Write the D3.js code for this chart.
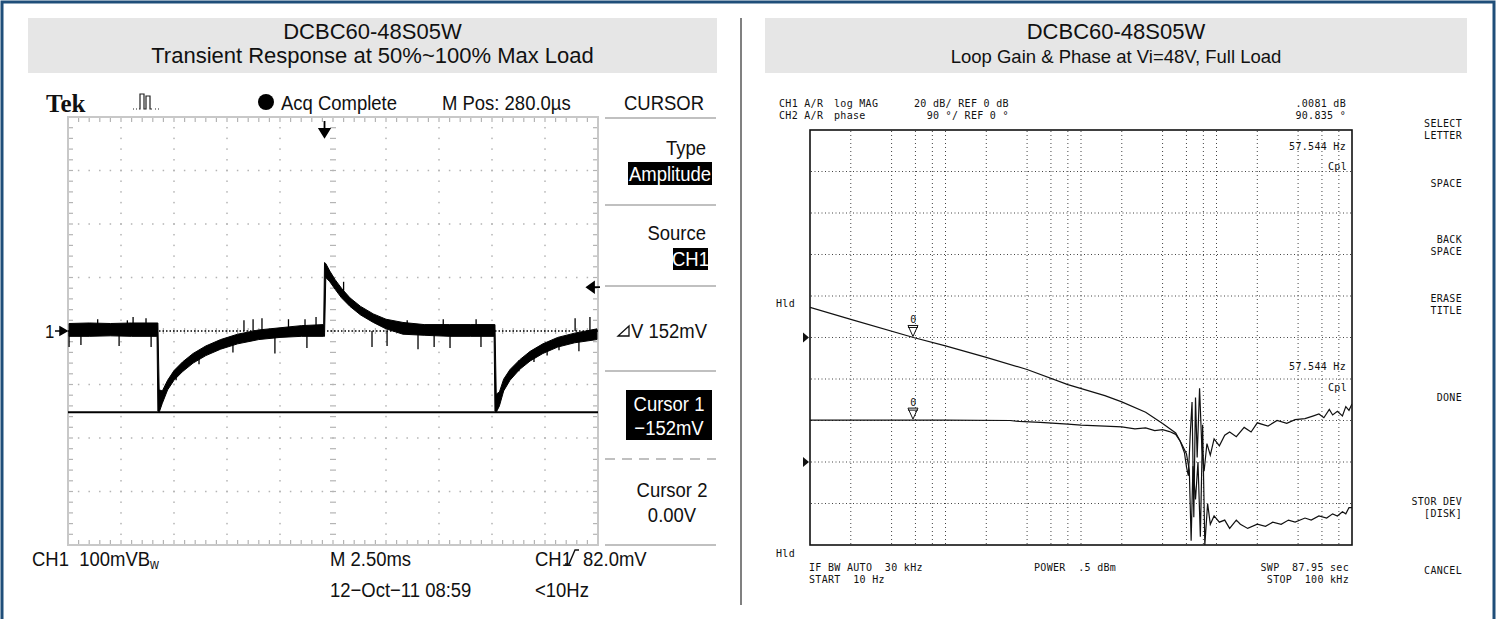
<!DOCTYPE html>
<html><head><meta charset="utf-8">
<script src="https://cdn.jsdelivr.net/npm/d3@7"></script>
<style>
body{margin:0;background:#fff;}
svg{display:block;}
.ttl{font-family:"Liberation Sans",Arial,sans-serif;fill:#111;}
.tek{font-family:"Liberation Sans",Arial,sans-serif;fill:#111;white-space:pre;}
.hp{font-family:"DejaVu Sans Mono","Liberation Mono",monospace;fill:#111;font-size:10px;letter-spacing:0.3px;white-space:pre;}
</style></head><body>
<svg id="c" width="1499" height="619"></svg>
<script>
// ---------------- DATA ----------------
const titleLeft = ["DCBC60-48S05W", "Transient Response at 50%~100% Max Load"];
const titleRight = ["DCBC60-48S05W", "Loop Gain & Phase at Vi=48V, Full Load"];

// Oscilloscope CH1 trace: time (ms), upper / lower edge of the noisy band (mV)
const traceT  = [0.05, 1.0, 2.0, 3.0, 4.20, 4.24, 4.30, 4.45, 4.7, 5.0, 5.4, 5.9, 6.5, 7.2, 8.0, 9.0, 10.0, 11.0, 12.06, 12.10, 12.16, 12.35, 12.6, 12.9, 13.3, 13.8, 14.4, 15.0, 15.8, 16.8, 18.0, 19.0, 20.10, 20.14, 20.20, 20.35, 20.55, 20.85, 21.3, 21.8, 22.4, 23.1, 23.9, 24.95];
const traceHi = [14, 15, 14, 15, 15, 15, -110, -112, -92, -74, -58, -42, -28, -16, -6, 2, 6, 10, 12, 128, 126, 112, 96, 80, 62, 46, 32, 22, 16, 12, 12, 12, 12, 12, -118, -114, -90, -72, -54, -38, -24, -12, -4, 4];
const traceLo = [-10, -10, -9, -10, -10, -150, -152, -135, -110, -92, -76, -60, -46, -34, -24, -16, -12, -10, -10, -10, 100, 92, 78, 62, 46, 30, 16, 4, -6, -8, -10, -10, -10, -150, -152, -140, -112, -92, -72, -56, -42, -30, -22, -16];
// noise spikes: time (ms), start and end level (mV)
const spikeT    = [0.05, 0.61, 2.41, 3.92, 6.18, 7.78, 9.76, 11.27, 14.34, 15.05, 16.51, 17.27, 18.02, 19.48, 21.27, 21.98, 23.16, 24.1, 3.07, 3.68, 8.3, 8.73, 9.15, 11.18, 11.7, 19.25, 23.92, 24.62, 1.4, 2.8, 5.1, 10.4, 13.0, 16.0, 17.7, 22.6];
const spikeFrom = [0, 0, 0, 0, -45, -24, 0, 0, 0, 0, 0, 0, 0, 0, -55, -42, -25, -15, 0, 0, 0, 0, 0, 0, 0, 0, 0, 0, 0, 0, -75, 0, 75, 0, 0, -30];
const spikeTo   = [-30, -26, -28, -30, -62, -40, -42, -32, -30, -28, -34, -30, -32, -30, -75, -58, -36, -38, 26, 24, 20, 22, 24, 22, 26, 22, 24, 26, 22, 20, -92, 22, 92, 20, 22, -46];
const cursor1mV = -152, cursor2mV = 0, trigLevelmV = 82, trigTimeMs = 12.1;
const timeDomainMs = [0, 25];      // 10 div x 2.5 ms
const voltDomainmV = [-400, 400];  // 8 div x 100 mV

const scopeTopText = ["Tek", "Acq Complete", "M Pos: 280.0\u00b5s", "CURSOR"];
const scopeMenuText = ["Type", "Amplitude", "Source", "CH1", "152mV", "Cursor 1", "\u2212152mV", "Cursor 2", "0.00V"];
const scopeBottomText = ["CH1  100mV", "M 2.50ms", "CH1", "82.0mV", "12\u2212Oct\u221211 08:59", "<10Hz"];

// Network analyzer: loop gain (dB) and phase (deg) vs frequency (Hz)
const gainFreq = [10, 20, 58, 100, 200, 400, 800, 1500, 2000, 3000, 4000, 5000, 5500, 6000, 6300, 6500, 6700, 7000, 7300, 7600, 7900, 8200, 8600, 9000, 9600, 10500, 11500, 12500, 14000, 15000, 17000, 20000, 23000, 26000, 30000, 34000, 38000, 45000, 50000, 57000, 65000, 72000, 78000, 85000, 90000, 95000, 100000];
const gainDb   = [14.5, 8.7, 0, -4, -9.6, -15.4, -22.7, -28, -31, -36, -41.5, -46, -51, -56, -64, -98, -62, -78, -60, -96, -42, -100, -80, -90, -86, -89, -88, -92, -88, -90, -92, -90, -91, -89, -90, -88, -89, -87, -88, -86, -87, -85, -86, -84, -85, -82, -82];
const phaseFreq = [10, 100, 300, 350, 500, 800, 1000, 1500, 2000, 2500, 3000, 3500, 4000, 4500, 5000, 5400, 5800, 6000, 6200, 6400, 6600, 6800, 7000, 7200, 7500, 7800, 8100, 8500, 9000, 9600, 10500, 11500, 12500, 14000, 16000, 18000, 20000, 24000, 28000, 33000, 38000, 45000, 52000, 57000, 62000, 68000, 72000, 78000, 85000, 90000, 95000, 100000];
const phaseDeg  = [90.8, 90.8, 90, 88, 86, 82, 80, 78, 76, 72, 74, 68, 70, 66, 60, 45, 20, -10, -30, 60, 130, -120, 140, 10, 160, 30, -20, 40, 15, 50, 35, 58, 65, 55, 75, 65, 85, 78, 90, 84, 92, 94, 100, 104, 96, 114, 102, 110, 100, 120, 112, 126];
const freqDomain = [10, 100000];
const gainDomain = [-100, 100];    // 20 dB/div, ref 0 dB
const phaseDomain = [-180, 720];   // 90 deg/div, ref 0 deg
const freqGrid = [20, 40, 60, 80, 100, 200, 400, 600, 800, 1000, 2000, 4000, 6000, 8000, 10000, 20000, 40000, 60000, 80000];
const markerFreq = 57.544, markerGain = 0.0081, markerPhase = 90.835;
const hpHeaderCols = [["CH1 A/R", "CH2 A/R"], ["log MAG", "phase"], ["20 dB/ REF 0 dB", "  90 \u00b0/ REF 0 \u00b0"], [".0081 dB", "90.835 \u00b0"]];
const hpFooterCols = [["IF BW AUTO  30 kHz", "START  10 Hz"], ["POWER  .5 dBm"], ["SWP  87.95 sec", "STOP  100 kHz"]];
const hpMenu = [["SELECT", "LETTER"], ["SPACE"], ["BACK", "SPACE"], ["ERASE", "TITLE"], ["DONE"], ["STOR DEV", "[DISK]"], ["CANCEL"]];

// ---------------- DRAW ----------------
const svg = d3.select("#c");

// outer frame
svg.append("path").attr("d", "M2,619 V2 H1494 V619").attr("fill", "none").attr("stroke", "#1f4e79").attr("stroke-width", 3);

// headers
function header(x, w, lines, size1, size2) {
  svg.append("rect").attr("x", x).attr("y", 18).attr("width", w).attr("height", 55).attr("fill", "#e6e6e6");
  svg.append("text").attr("class", "ttl").attr("x", x + w / 2).attr("y", 39).attr("text-anchor", "middle").attr("font-size", size1).text(lines[0]);
  svg.append("text").attr("class", "ttl").attr("x", x + w / 2).attr("y", 63).attr("text-anchor", "middle").attr("font-size", size2).text(lines[1]);
}
header(28, 689, titleLeft, 22, 22);
header(765, 702, titleRight, 22, 18.5);
svg.append("line").attr("x1", 741).attr("x2", 741).attr("y1", 18).attr("y2", 605).attr("stroke", "#808080").attr("stroke-width", 2);

// ======== Oscilloscope ========
const sx = d3.scaleLinear().domain(timeDomainMs).range([68, 598]);
const sy = d3.scaleLinear().domain(voltDomainmV).range([545, 117]);
const g = svg.append("g");
const xMajor = d3.range(timeDomainMs[0], timeDomainMs[1] + 0.001, 2.5);
const yMajor = d3.range(voltDomainmV[0], voltDomainmV[1] + 0.001, 100);
const xMinor = d3.range(timeDomainMs[0], timeDomainMs[1] + 0.001, 0.5);
const yMinor = d3.range(voltDomainmV[0], voltDomainmV[1] + 0.001, 20);
const gridCol = "#b4b4b4";
xMajor.slice(1, -1).forEach((t, i) => {
  if (i === 4) return;
  g.selectAll(null).data(yMinor).enter().append("rect")
    .attr("x", sx(t) - 0.75).attr("y", d => sy(d) - 0.75).attr("width", 1.5).attr("height", 1.5).attr("fill", gridCol);
});
yMajor.slice(1, -1).forEach((v, i) => {
  if (i === 3) return;
  g.selectAll(null).data(xMinor).enter().append("rect")
    .attr("x", d => sx(d) - 0.75).attr("y", sy(v) - 0.75).attr("width", 1.5).attr("height", 1.5).attr("fill", gridCol);
});
g.selectAll(null).data(yMinor).enter().append("line")
  .attr("x1", sx(12.5) - 3).attr("x2", sx(12.5) + 3).attr("y1", d => sy(d)).attr("y2", d => sy(d)).attr("stroke", gridCol).attr("stroke-width", 1.2);
g.selectAll(null).data(xMinor).enter().append("line")
  .attr("y1", sy(0) - 3).attr("y2", sy(0) + 3).attr("x1", d => sx(d)).attr("x2", d => sx(d)).attr("stroke", gridCol).attr("stroke-width", 1.2);
g.selectAll(null).data(xMinor).enter().append("line")
  .attr("x1", d => sx(d)).attr("x2", d => sx(d)).attr("y1", sy(400)).attr("y2", sy(400) + 5).attr("stroke", gridCol).attr("stroke-width", 1.2);
g.selectAll(null).data(xMinor).enter().append("line")
  .attr("x1", d => sx(d)).attr("x2", d => sx(d)).attr("y1", sy(-400)).attr("y2", sy(-400) - 5).attr("stroke", gridCol).attr("stroke-width", 1.2);
g.selectAll(null).data(yMinor).enter().append("line")
  .attr("y1", d => sy(d)).attr("y2", d => sy(d)).attr("x1", sx(0)).attr("x2", sx(0) + 5).attr("stroke", gridCol).attr("stroke-width", 1.2);
g.selectAll(null).data(yMinor).enter().append("line")
  .attr("y1", d => sy(d)).attr("y2", d => sy(d)).attr("x1", sx(25)).attr("x2", sx(25) - 5).attr("stroke", gridCol).attr("stroke-width", 1.2);
g.append("rect").attr("x", sx(0)).attr("y", sy(400)).attr("width", sx(25) - sx(0)).attr("height", sy(-400) - sy(400))
  .attr("fill", "none").attr("stroke", "#c8c8c8").attr("stroke-width", 2);

// cursors
g.append("line").attr("x1", sx(0)).attr("x2", sx(25)).attr("y1", sy(cursor2mV)).attr("y2", sy(cursor2mV))
  .attr("stroke", "#000").attr("stroke-width", 1.5).attr("stroke-dasharray", "1.5,2");
g.append("line").attr("x1", sx(0)).attr("x2", sx(25)).attr("y1", sy(cursor1mV)).attr("y2", sy(cursor1mV))
  .attr("stroke", "#000").attr("stroke-width", 2);

// trace band
const band = traceT.map((t, i) => ({t, hi: traceHi[i], lo: traceLo[i]}));
g.append("path").datum(band)
  .attr("d", d3.area().x(d => sx(d.t)).y0(d => sy(d.lo)).y1(d => sy(d.hi)))
  .attr("fill", "#000").attr("stroke", "#000").attr("stroke-width", 1);
g.selectAll(null).data(spikeT.map((t, i) => ({t, a: spikeFrom[i], b: spikeTo[i]}))).enter().append("line")
  .attr("x1", d => sx(d.t)).attr("x2", d => sx(d.t)).attr("y1", d => sy(d.a)).attr("y2", d => sy(d.b))
  .attr("stroke", "#000").attr("stroke-width", 1.3);

// Tek-style condensed text helper
function tk(x, y, s, anchor, fill, size) {
  const gg = svg.append("g").attr("transform", `translate(${x},${y}) scale(0.88,1)`);
  return gg.append("text").attr("class", "tek").attr("x", 0).attr("y", 0).attr("font-size", size || 21)
    .attr("text-anchor", anchor || "start").style("fill", fill || "#111").text(s);
}

// channel marker "1 ->"
const ry = sy(0);
tk(45, ry + 7, "1", "start", "#111", 19);
svg.append("path").attr("d", `M55,${ry} H62 M60,${ry - 4} L67,${ry} L60,${ry + 4} Z`).attr("stroke", "#000").attr("stroke-width", 1.5).attr("fill", "#000");
const ty = sy(trigLevelmV);
svg.append("path").attr("d", `M600,${ty} H592 M594,${ty - 5} L587,${ty} L594,${ty + 5} Z`).attr("stroke", "#000").attr("stroke-width", 1.8).attr("fill", "#000");
const tx = sx(trigTimeMs);
svg.append("path").attr("d", `M${tx},121 V130 M${tx - 5},129 L${tx},137 L${tx + 5},129 Z`).attr("stroke", "#000").attr("stroke-width", 1.8).attr("fill", "#000");

// top line
svg.append("text").attr("x", 46).attr("y", 112).attr("font-family", "'Liberation Serif','DejaVu Serif',serif").attr("font-weight", "bold").attr("font-size", 25).attr("fill", "#111").text(scopeTopText[0]);
svg.append("path").attr("d", "M133,109 h1 M136,109 h1 M139,109 h1 V94 h4 V109 h2 V96 h4 V109 h2 M155,109 h1 M158,109 h1").attr("stroke", "#222").attr("stroke-width", 1.2).attr("fill", "none");
svg.append("circle").attr("cx", 266).attr("cy", 102).attr("r", 8).attr("fill", "#000");
tk(281, 110, scopeTopText[1]);
tk(442, 110, scopeTopText[2]);
tk(664, 110, scopeTopText[3], "middle");

// menu separators
const sepCol = "#c0c0c0";
[118, 205, 286, 371, 545].forEach(y => svg.append("line").attr("x1", 605).attr("x2", 716).attr("y1", y).attr("y2", y).attr("stroke", sepCol).attr("stroke-width", 2));
svg.append("line").attr("x1", 605).attr("x2", 716).attr("y1", 459).attr("y2", 459).attr("stroke", sepCol).attr("stroke-width", 2).attr("stroke-dasharray", "10,7");

tk(706, 155, scopeMenuText[0], "end");
svg.append("rect").attr("x", 628).attr("y", 162).attr("width", 84).attr("height", 23).attr("fill", "#000");
tk(670, 181, scopeMenuText[1], "middle", "#fff");
tk(706, 240, scopeMenuText[2], "end");
svg.append("rect").attr("x", 673).attr("y", 248).attr("width", 35).attr("height", 22).attr("fill", "#000");
tk(690.5, 266, scopeMenuText[3], "middle", "#fff");
svg.append("path").attr("d", "M618,336 L629,336 L629,326 Z").attr("fill", "none").attr("stroke", "#111").attr("stroke-width", 1.3);
tk(631, 338, "V " + scopeMenuText[4]);
svg.append("rect").attr("x", 626).attr("y", 390).attr("width", 86).attr("height", 50).attr("fill", "#000");
tk(669, 411, scopeMenuText[5], "middle", "#fff");
tk(669, 435, scopeMenuText[6], "middle", "#fff");
tk(672, 497, scopeMenuText[7], "middle");
tk(672, 522, scopeMenuText[8], "middle");

// bottom line
const b1 = tk(32, 566, scopeBottomText[0]);
b1.append("tspan").text("B");
b1.append("tspan").attr("font-size", 14).attr("dy", 3).text("w");
tk(330, 566, scopeBottomText[1]);
tk(535, 566, scopeBottomText[2]);
svg.append("path").attr("d", "M565,564 h4 l6,-14 h4").attr("fill", "none").attr("stroke", "#111").attr("stroke-width", 1.4);
tk(583, 566, scopeBottomText[3]);
tk(330, 597, scopeBottomText[4]);
tk(535, 597, scopeBottomText[5]);

// ======== Network analyzer ========
const fx = d3.scaleLog().domain(freqDomain).range([810, 1352]);
const gy = d3.scaleLinear().domain(gainDomain).range([545, 130]);
const py = d3.scaleLinear().domain(phaseDomain).range([545, 130]);
const h = svg.append("g");
h.append("clipPath").attr("id", "hpclip").append("rect").attr("x", 810).attr("y", 130).attr("width", 542).attr("height", 415);
const dotCol = "#444";
h.selectAll(null).data(freqGrid).enter().append("line")
  .attr("x1", d => fx(d)).attr("x2", d => fx(d)).attr("y1", 131).attr("y2", 544)
  .attr("stroke", dotCol).attr("stroke-width", 1).attr("stroke-dasharray", "1,3");
h.selectAll(null).data(d3.range(gainDomain[0] + 20, gainDomain[1], 20)).enter().append("line")
  .attr("x1", 811).attr("x2", 1351).attr("y1", d => gy(d)).attr("y2", d => gy(d))
  .attr("stroke", dotCol).attr("stroke-width", 1).attr("stroke-dasharray", "1,2.5");
h.append("rect").attr("x", 810).attr("y", 130).attr("width", 542).attr("height", 415).attr("fill", "none").attr("stroke", "#111").attr("stroke-width", 1.6);

const tr = h.append("g").attr("clip-path", "url(#hpclip)");
tr.append("path").datum(gainFreq.map((f, i) => [f, gainDb[i]]))
  .attr("d", d3.line().x(d => fx(d[0])).y(d => gy(d[1]))).attr("fill", "none").attr("stroke", "#111").attr("stroke-width", 1.2);
tr.append("path").datum(phaseFreq.map((f, i) => [f, phaseDeg[i]]))
  .attr("d", d3.line().x(d => fx(d[0])).y(d => py(d[1]))).attr("fill", "none").attr("stroke", "#111").attr("stroke-width", 1.2);

// HP text helper: multi-line text in one element
function hpt(x, y, lines, anchor, gap) {
  const t = svg.append("text").attr("class", "hp").attr("text-anchor", anchor || "start");
  [].concat(lines).forEach((s, i) => t.append("tspan").attr("x", x).attr("y", y + i * (gap || 11.8)).text(s));
  return t;
}
function marker(x, y) {
  h.append("path").attr("d", `M${x - 5},${y - 12} H${x + 5} L${x},${y - 1} Z M${x - 5},${y - 10} H${x + 5}`).attr("fill", "none").attr("stroke", "#111").attr("stroke-width", 1);
  hpt(x + 0.5, y - 14, "0", "middle");
}
marker(fx(markerFreq), gy(markerGain));
marker(fx(markerFreq), py(markerPhase));

svg.append("path").attr("d", `M803,${gy(0) - 5} L809,${gy(0)} L803,${gy(0) + 5} Z`).attr("fill", "#111");
svg.append("path").attr("d", `M803,${py(0) - 5} L809,${py(0)} L803,${py(0) + 5} Z`).attr("fill", "#111");
hpt(776, 307, "Hld");
hpt(776, 557, "Hld");
hpt(1346, 150, markerFreq.toFixed(3) + " Hz", "end");
hpt(1347, 170, "Cpl", "end");
hpt(1346, 370, markerFreq.toFixed(3) + " Hz", "end");
hpt(1347, 391, "Cpl", "end");
// header
hpt(779, 107, hpHeaderCols[0]);
hpt(834, 107, hpHeaderCols[1]);
hpt(914, 107, hpHeaderCols[2]);
hpt(1346, 107, hpHeaderCols[3], "end");
// footer
hpt(809, 571, hpFooterCols[0]);
hpt(1034, 571, hpFooterCols[1]);
hpt(1349, 571, hpFooterCols[2], "end");
// softkey menu
const menuY = [127, 187, 243, 302, 401, 505, 574];
hpMenu.forEach((lines, i) => hpt(1462, menuY[i], lines, "end"));
</script>
</body></html>
